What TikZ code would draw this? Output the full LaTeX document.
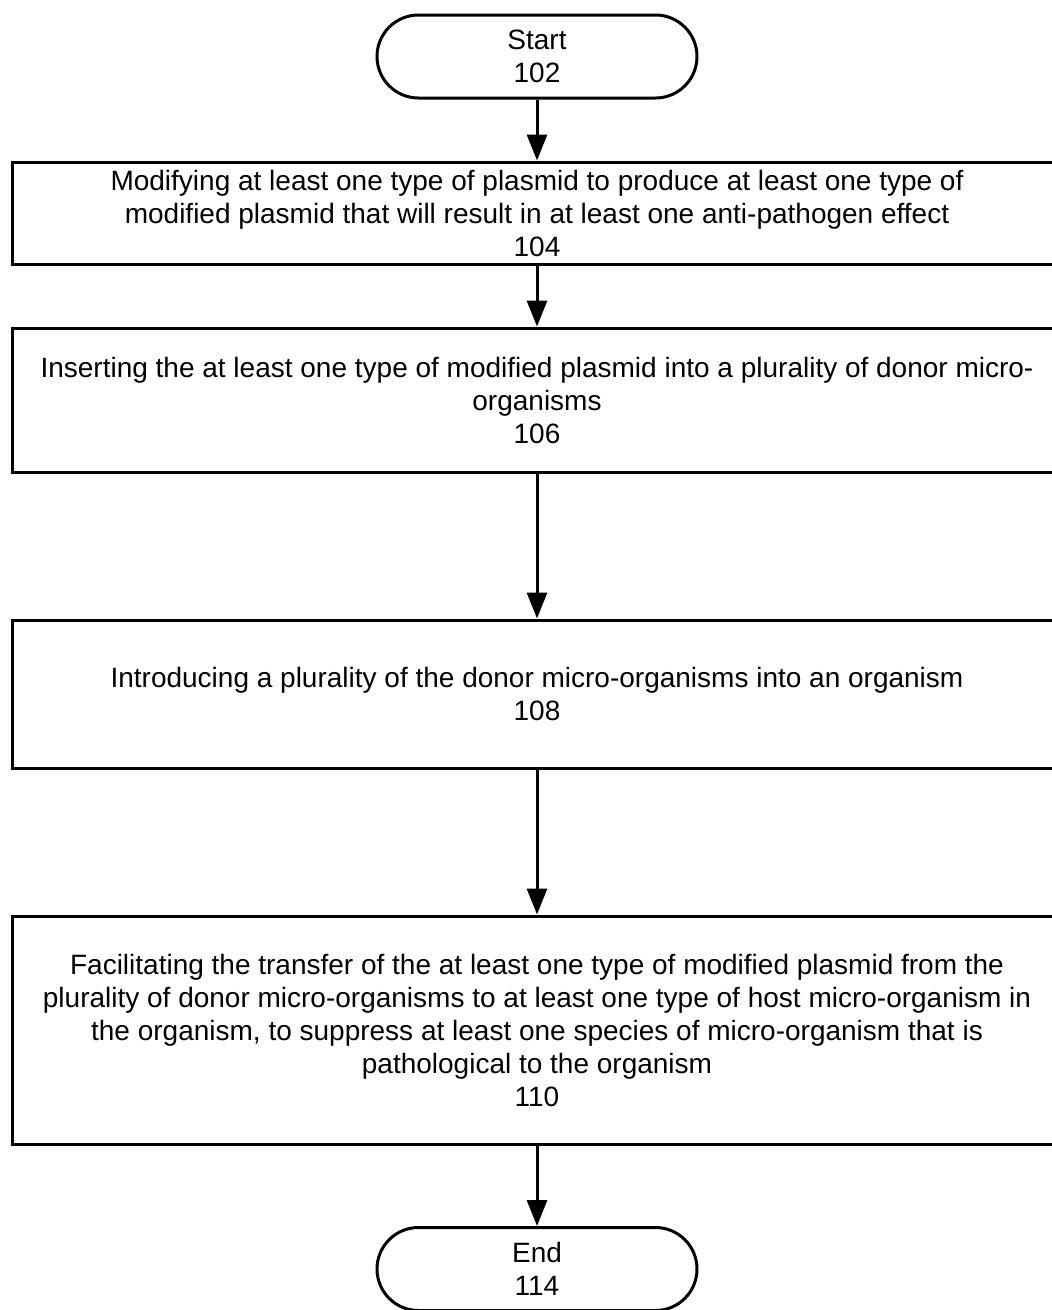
\documentclass[tikz,border=0pt]{standalone}
\usepackage{fontspec}
\setmainfont{Liberation Sans}
\usetikzlibrary{shapes.misc,arrows.meta}
\begin{document}
\begin{tikzpicture}[x=1pt,y=-1pt,
  every node/.style={font=\fontsize{28}{33}\selectfont, align=center, inner sep=0pt},
  terminal/.style={draw, line width=3pt, rounded rectangle, minimum width=320pt, minimum height=83pt},
  stepbox/.style={draw, line width=3pt, rectangle, minimum width=1050pt},
  flow/.style={line width=3pt, -{Triangle[length=26pt,width=20pt]}}]
\useasboundingbox (0,0) rectangle (1052,1310);
\clip (0,0) rectangle (1052,1310);
\node[terminal] (start) at (537,56.5) {Start\\102};
\node[stepbox, minimum height=102pt] (s104) at (537,213) {Modifying at least one type of plasmid to produce at least one type of\\modified plasmid that will result in at least one anti-pathogen effect\\104};
\node[stepbox, minimum height=144pt] (s106) at (537,400) {Inserting the at least one type of modified plasmid into a plurality of donor micro-\\organisms\\106};
\node[stepbox, minimum height=148pt] (s108) at (537,694) {Introducing a plurality of the donor micro-organisms into an organism\\108};
\node[stepbox, minimum height=228pt] (s110) at (537,1030) {Facilitating the transfer of the at least one type of modified plasmid from the\\plurality of donor micro-organisms to at least one type of host micro-organism in\\the organism, to suppress at least one species of micro-organism that is\\pathological to the organism\\110};
\node[terminal] (end) at (537,1269) {End\\114};
\draw[flow] (start) -- (s104);
\draw[flow] (s104) -- (s106);
\draw[flow] (s106) -- (s108);
\draw[flow] (s108) -- (s110);
\draw[flow] (s110) -- (end);
\end{tikzpicture}
\end{document}
